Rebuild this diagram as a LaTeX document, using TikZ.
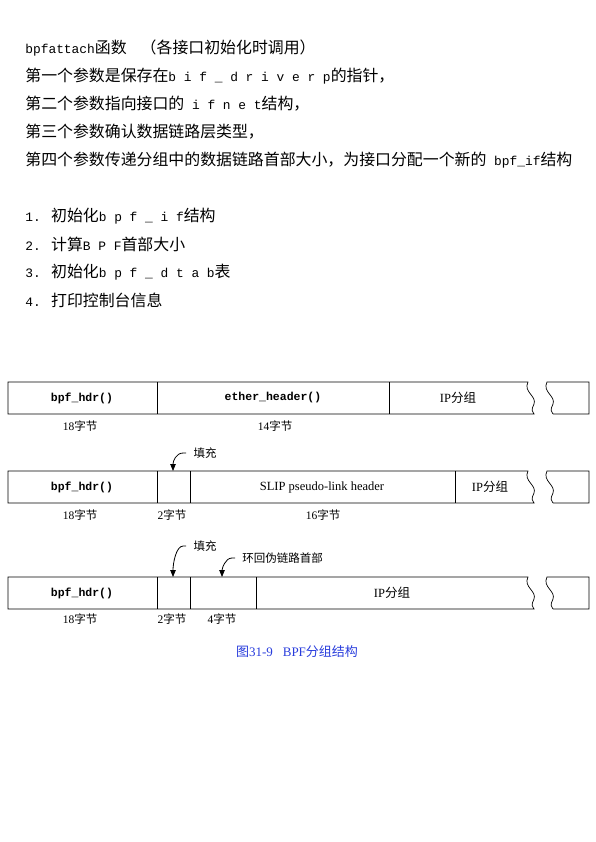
\documentclass[tikz,border=0pt]{standalone}
\usepackage{fontspec}
\setmainfont{Liberation Serif}
\setmonofont{Liberation Mono}
\newfontfamily\cjk{Noto Sans CJK SC}
\newfontfamily\hw[Scale=0.81]{Liberation Mono}
\usetikzlibrary{arrows.meta}
\definecolor{capblue}{RGB}{40,60,220}

\begin{document}
\begin{tikzpicture}[x=1pt,y=-1pt,line width=0.7pt,
    every node/.style={inner sep=1pt},
    txt/.style={anchor=west,font=\fontsize{15.9}{18}\selectfont\cjk},
    lbl/.style={font=\fontsize{11.5}{14}\selectfont},
    fld/.style={font=\fontsize{12.5}{14}\selectfont},
    hdr/.style={font=\fontsize{11.5}{14}\selectfont\ttfamily\bfseries},
    callout/.style={-{Triangle[length=7pt,width=5.5pt]},line width=0.8pt}]
  \useasboundingbox (0,0) rectangle (595,842);

  % notes
  \node[txt] (l1) at (24,48) {{\hw bpfattach}函数\hspace{14pt}（各接口初始化时调用）};
  \node[txt] (l2) at (24,76) {第一个参数是保存在{\hw b i f \_ d r i v e r p}的指针，};
  \node[txt] (l3) at (24,104) {第二个参数指向接口的{\hw{} i f n e t}结构，};
  \node[txt] (l4) at (24,132) {第三个参数确认数据链路层类型，};
  \node[txt] (l5) at (24,160) {第四个参数传递分组中的数据链路首部大小，为接口分配一个新的{\hw{} bpf\_if}结构};

  \node[txt] (i1) at (24,216) {{\hw 1. }初始化{\hw b p f \_ i f}结构};
  \node[txt] (i2) at (24,244) {{\hw 2. }计算{\hw B P F}首部大小};
  \node[txt] (i3) at (24,272) {{\hw 3. }初始化{\hw b p f \_ d t a b}表};
  \node[txt] (i4) at (24,300) {{\hw 4. }打印控制台信息};

  % packet outlines with broken ends
  \foreach \t in {382,471,577}{
    \draw (528,\t) -- (8,\t) -- (8,\t+32) -- (534,\t+32)
      .. controls (532,\t+30) and (531,\t+28) .. (534,\t+22)
      .. controls (537,\t+14) and (523,\t+10) .. (528,\t) -- cycle;
    \draw (553,\t+32) -- (589,\t+32) -- (589,\t) -- (547,\t)
      .. controls (542,\t+10) and (556,\t+14) .. (553,\t+22)
      .. controls (550,\t+28) and (551,\t+30) .. (553,\t+32);
  }

  % ethernet
  \draw (157,382)--(157,414);
  \draw (389,382)--(389,414);
  \node[hdr] (hdrA) at (82,398) {bpf\_hdr()};
  \node[hdr] (ethA) at (273,398) {ether\_header()};
  \node[fld] (ipA) at (458,398) {IP{\cjk 分组}};
  \node[lbl] (szA1) at (80,426) {18{\cjk 字节}};
  \node[lbl] (szA2) at (275,426) {14{\cjk 字节}};

  % SLIP
  \draw (157,471)--(157,503);
  \draw (190,471)--(190,503);
  \draw (455,471)--(455,503);
  \node[hdr] (hdrB) at (82,487) {bpf\_hdr()};
  \node[fld] (slipB) at (322,487) {SLIP pseudo-link header};
  \node[fld] (ipB) at (490,487) {IP{\cjk 分组}};
  \node[lbl] (szB1) at (80,515) {18{\cjk 字节}};
  \node[lbl] (szB2) at (172,515) {2{\cjk 字节}};
  \node[lbl] (szB3) at (323,515) {16{\cjk 字节}};
  \node[lbl] (padB) at (205,453) {\cjk 填充};
  \coordinate (padBtip) at (173,471);
  \draw[callout] ([xshift=-6pt]padB.west) -- ++(-3,0) .. controls +(-7,0) and +(0,-10) .. (padBtip);

  % loopback
  \draw (157,577)--(157,609);
  \draw (190,577)--(190,609);
  \draw (256,577)--(256,609);
  \node[hdr] (hdrC) at (82,593) {bpf\_hdr()};
  \node[fld] (ipC) at (392,593) {IP{\cjk 分组}};
  \node[lbl] (szC1) at (80,619) {18{\cjk 字节}};
  \node[lbl] (szC2) at (172,619) {2{\cjk 字节}};
  \node[lbl] (szC3) at (222,619) {4{\cjk 字节}};
  \node[lbl] (padC) at (205,546) {\cjk 填充};
  \coordinate (padCtip) at (173,577);
  \draw[callout] ([xshift=-6pt]padC.west) -- ++(-3,0) .. controls +(-7,0) and +(0,-14) .. (padCtip);
  \node[lbl,anchor=west] (loopC) at (241,558) {\cjk 环回伪链路首部};
  \coordinate (loopCtip) at (222,577);
  \draw[callout] ([xshift=-6pt]loopC.west) -- ++(-3,0) .. controls +(-7,0) and +(0,-8) .. (loopCtip);

  \node[font=\fontsize{13}{15}\selectfont,text=capblue] (cap) at (297,652) {{\cjk 图}31-9\hspace{10pt}BPF{\cjk 分组结构}};
\end{tikzpicture}
\end{document}
